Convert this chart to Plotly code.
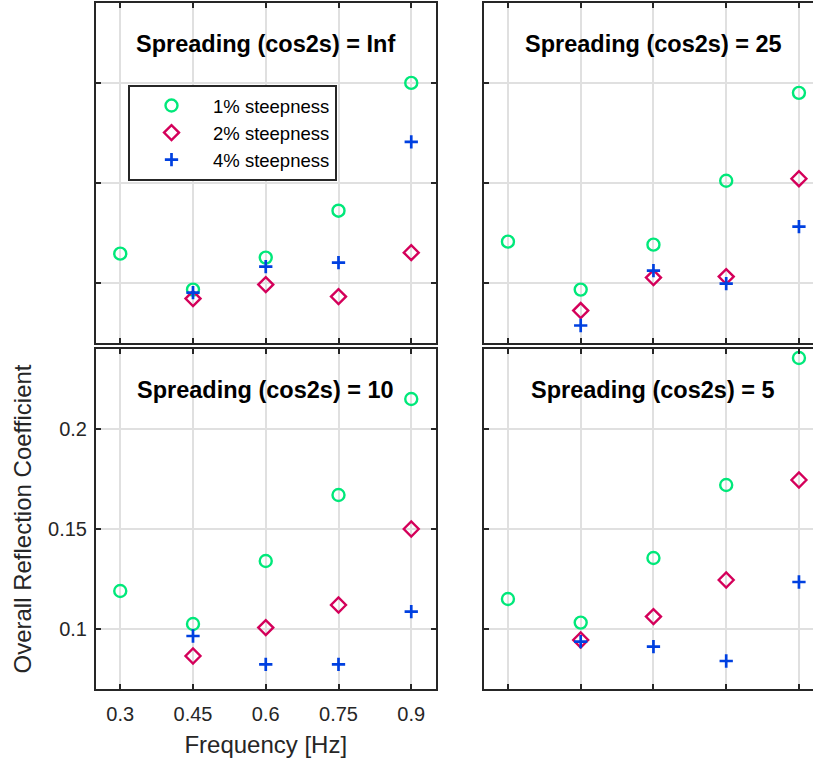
import plotly.graph_objects as go

# Wave frequencies (Hz) shared by every panel
freq_hz = [0.3, 0.45, 0.6, 0.75, 0.9]
freq_ticks = ["0.3", "0.45", "0.6", "0.75", "0.9"]
coef_ticks = [0.1, 0.15, 0.2]
coef_tick_text = ["0.1", "0.15", "0.2"]

# Spreading labels, one per panel (top-left, top-right, bottom-left, bottom-right)
spreading = ["Inf", "25", "10", "5"]

# Overall reflection coefficient per steepness, one list per spreading value
steep1_inf = [0.1145, 0.0965, 0.1125, 0.136, 0.200]
steep2_inf = [None, 0.092, 0.099, 0.093, 0.115]
steep4_inf = [None, 0.095, 0.108, 0.110, 0.1705]

steep1_25 = [0.1205, 0.0965, 0.119, 0.151, 0.195]
steep2_25 = [None, 0.086, 0.1025, 0.103, 0.152]
steep4_25 = [None, 0.0785, 0.106, 0.0995, 0.128]

steep1_10 = [0.119, 0.1025, 0.134, 0.167, 0.215]
steep2_10 = [None, 0.0865, 0.1007, 0.112, 0.150]
steep4_10 = [None, 0.0965, 0.0823, 0.0823, 0.1087]

steep1_5 = [0.115, 0.1032, 0.1355, 0.172, 0.2355]
steep2_5 = [None, 0.0945, 0.1062, 0.1245, 0.1745]
steep4_5 = [None, 0.0937, 0.0912, 0.084, 0.1235]

series_names = ["1% steepness", "2% steepness", "4% steepness"]
panels = [
    [steep1_inf, steep2_inf, steep4_inf],
    [steep1_25, steep2_25, steep4_25],
    [steep1_10, steep2_10, steep4_10],
    [steep1_5, steep2_5, steep4_5],
]

W, H = 813, 762
AX = "#262626"
GRID = "#e0e0e0"
FONT = "Liberation Sans, Arial, sans-serif"

markers = [
    dict(symbol="circle-open", size=12, color="#00e87a", line=dict(width=2.4, color="#00e87a")),
    dict(symbol="diamond-open", size=11.5, color="#d4005a", line=dict(width=2.4, color="#d4005a")),
    dict(symbol="cross-thin-open", size=9.5, color="#0040e0", line=dict(width=2.7, color="#0040e0")),
]

# Axis placement in pixels (left, right, top, bottom) for each panel
x_left = (96 / W, 435.5 / W)
x_right = (483.7 / W, 1.0)
y_top = (1 - 342.5 / H, 1 - 3 / H)
y_bot = (1 - 689 / H, 1 - 349 / H)
domains = [(x_left, y_top), (x_right, y_top), (x_left, y_bot), (x_right, y_bot)]

X_RANGE_LEFT = [0.25, 0.95]
X_RANGE_RIGHT = [0.25, 0.25 + (W - 483.7) / 485.0]
Y_RANGE = [0.07, 0.24]

fig = go.Figure()

for p, values in enumerate(panels):
    suffix = "" if p == 0 else str(p + 1)
    for s, (name, ys) in enumerate(zip(series_names, values)):
        fig.add_trace(go.Scatter(
            x=freq_hz, y=ys, mode="markers", name=name,
            marker=markers[s], showlegend=(p == 0),
            xaxis="x" + suffix, yaxis="y" + suffix,
            cliponaxis=False if p in (0, 2) else True,
        ))

layout = {}
for p, (xd, yd) in enumerate(domains):
    suffix = "" if p == 0 else str(p + 1)
    is_left = p in (0, 2)
    is_bottom_left = p == 2
    layout["xaxis" + suffix] = dict(
        domain=list(xd), range=X_RANGE_LEFT if is_left else X_RANGE_RIGHT,
        anchor="y" + suffix, tickvals=freq_hz, ticktext=freq_ticks,
        showticklabels=is_bottom_left, ticks="inside", ticklen=5, tickwidth=2,
        ticklabelstandoff=6,
        tickcolor=AX, showline=True, linewidth=2, linecolor=AX, mirror="ticks",
        showgrid=True, gridcolor=GRID, gridwidth=2, zeroline=False,
        tickfont=dict(family=FONT, size=20, color=AX),
        title=dict(text="Frequency [Hz]" if is_bottom_left else "",
                   font=dict(family=FONT, size=24, color=AX), standoff=12),
    )
    layout["yaxis" + suffix] = dict(
        domain=list(yd), range=Y_RANGE, anchor="x" + suffix,
        tickvals=coef_ticks, ticktext=coef_tick_text,
        showticklabels=is_bottom_left, ticks="inside", ticklen=5, tickwidth=2,
        ticklabelstandoff=3,
        tickcolor=AX, showline=True, linewidth=2, linecolor=AX,
        mirror="ticks" if is_left else False,
        showgrid=True, gridcolor=GRID, gridwidth=2, zeroline=False,
        tickfont=dict(family=FONT, size=20, color=AX),
        title=dict(text="Overall Reflection Coefficient" if is_bottom_left else "",
                   font=dict(family=FONT, size=24, color=AX), standoff=10),
    )

annotations = []
for p, label in enumerate(spreading):
    suffix = "" if p == 0 else str(p + 1)
    annotations.append(dict(
        x=0.6, y=0.2195, xref="x" + suffix, yref="y" + suffix,
        text=f"<b>Spreading (cos2s) = {label}</b>", showarrow=False,
        xanchor="center", yanchor="middle",
        font=dict(family=FONT, size=23.5, color="#000000"),
    ))

fig.update_layout(
    **layout,
    annotations=annotations,
    width=W, height=H,
    margin=dict(l=0, r=0, t=0, b=0),
    paper_bgcolor="white", plot_bgcolor="white",
    legend=dict(
        x=128 / W, y=1 - 85 / H, xanchor="left", yanchor="top",
        bgcolor="white", bordercolor=AX, borderwidth=2,
        font=dict(family=FONT, size=18.5, color="#000000"),
        itemwidth=73, tracegroupgap=0,
    ),
)

fig.write_html("out.html")
